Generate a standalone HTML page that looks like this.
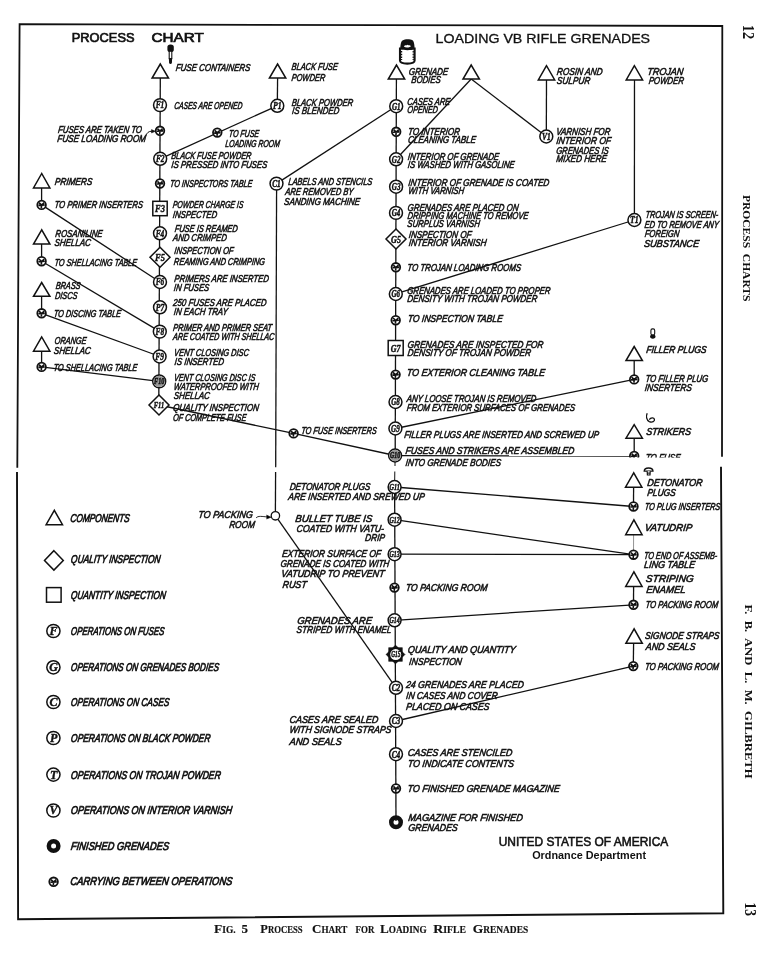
<!DOCTYPE html>
<html><head><meta charset="utf-8"><title>Process Chart for Loading Rifle Grenades</title>
<style>
html,body{margin:0;padding:0;background:#fff;}
body{width:765px;height:959px;overflow:hidden;}
svg{display:block;filter:grayscale(1);}
svg text{font-family:"Liberation Sans",sans-serif;stroke:none;fill:#111;}
svg .h{font-style:italic;font-weight:normal;stroke:#111;stroke-width:0.55px;}
svg .lab{font-family:"Liberation Serif",serif;font-style:italic;font-weight:bold;stroke:#111;stroke-width:0.45px;}
svg .hl{font-style:italic;font-weight:normal;stroke:#111;stroke-width:0.75px;}
svg .leg{font-family:"Liberation Serif",serif;font-style:italic;font-weight:bold;stroke:#111;stroke-width:0.4px;}
svg .ti{font-weight:normal;stroke:#111;stroke-width:0.3px;}
svg .ti2{font-weight:normal;stroke:#111;stroke-width:0.7px;}
svg .st{font-weight:normal;stroke:#111;stroke-width:0.55px;}
svg .st2{font-weight:bold;}
svg .cap{font-family:"Liberation Serif",serif;font-weight:bold;stroke:#111;stroke-width:0.15px;}
svg .side{font-family:"Liberation Serif",serif;font-weight:bold;}
</style></head>
<body>
<svg width="765" height="959" viewBox="0 0 765 959" stroke="#111" fill="none">
<rect x="0" y="0" width="765" height="959" fill="#fff" stroke="none"/>
<g fill="none">
<polyline points="17.3,467.8 19.6,24.2 722.3,26.0 722.0,456.8" fill="none" stroke-width="1.8"/>
<polyline points="17.0,472.0 18.1,919.2 723.3,913.2 721.0,466.8" fill="none" stroke-width="1.9"/>
</g>
<text class="ti2" x="71.8" y="42.2" font-size="12.6" textLength="62.7" lengthAdjust="spacingAndGlyphs">PROCESS</text>
<text class="ti2" x="151.5" y="42.2" font-size="12.6" textLength="52.3" lengthAdjust="spacingAndGlyphs">CHART</text>
<text class="ti" x="435.6" y="42.7" font-size="12.2" textLength="214.5" lengthAdjust="spacingAndGlyphs">LOADING VB RIFLE GRENADES</text>
<rect x="167.4" y="44.4" width="6.4" height="7.6" rx="3" ry="2.6" fill="#111" stroke="none"/>
<rect x="169.2" y="51.2" width="2.6" height="7.4" fill="#fff" stroke-width="1.1"/>
<path d="M168.9,58.2 L172.1,58.2 L171.9,63 C171.5,64.4 169.5,64.4 169.1,63 Z" fill="#111" stroke="none"/>
<path d="M400,48.5 L400,60.5 C400,64.6 414.6,64.6 414.6,60.5 L414.6,48.5 Z" fill="#fff" stroke-width="2.1"/>
<path d="M400.3,49 C400.3,46 400.8,41.5 402.5,40.5 C405,39 410,39 412.5,40.3 C414.3,41.5 414.6,46 414.6,49 C411,50.6 404,50.6 400.3,49 Z" fill="#111" stroke="none"/>
<path d="M403.8,46.5 C405,44.6 406.5,45.8 407.5,44.8 C408.6,45.8 410,44.6 411,46.2 C409,48 405.5,48 403.8,46.5 Z" fill="#fff" stroke="none"/>
<path d="M401.6,51 L401.6,60 M413.2,51 L413.2,60" stroke-width="1.2" stroke-dasharray="1.5 1.2"/>
<g fill="none">
<line x1="160.3" y1="78.0" x2="158.8" y2="405.0" stroke-width="1.3" />
<line x1="41.6" y1="188.0" x2="41.6" y2="205.0" stroke-width="1.3" />
<line x1="41.6" y1="244.0" x2="41.6" y2="261.0" stroke-width="1.3" />
<line x1="41.6" y1="296.3" x2="41.6" y2="313.3" stroke-width="1.3" />
<line x1="41.6" y1="351.2" x2="41.6" y2="367.0" stroke-width="1.3" />
<line x1="41.7" y1="204.9" x2="160.0" y2="282.0" stroke-width="1.3" />
<line x1="41.7" y1="261.2" x2="160.0" y2="331.6" stroke-width="1.3" />
<line x1="41.6" y1="313.3" x2="160.0" y2="356.5" stroke-width="1.3" />
<line x1="41.2" y1="366.9" x2="159.0" y2="381.4" stroke-width="1.3" />
<line x1="277.6" y1="78.0" x2="277.3" y2="105.8" stroke-width="1.3" />
<line x1="277.2" y1="105.8" x2="160.2" y2="158.8" stroke-width="1.3" />
<path d="M145.6,135.8 C147,133 148.5,131.3 151,131.3 L153,131.3" stroke-width="1"/>
<path d="M151.5,129.6 L155.4,131.3 L151.5,133 Z" fill="#111" stroke-width="0.5"/>
<line x1="276.5" y1="183.6" x2="396.0" y2="106.2" stroke-width="1.3" />
<line x1="276.6" y1="183.6" x2="275.7" y2="467.2" stroke-width="1.3" />
<line x1="275.6" y1="472.0" x2="275.4" y2="511.6" stroke-width="1.3" />
<line x1="159.0" y1="405.0" x2="293.6" y2="433.4" stroke-width="1.3" />
<line x1="293.6" y1="433.4" x2="395.0" y2="455.5" stroke-width="1.3" />
<line x1="396.4" y1="79.0" x2="395.2" y2="455.5" stroke-width="1.3" />
<line x1="471.2" y1="79.0" x2="396.0" y2="159.3" stroke-width="1.3" />
<line x1="471.2" y1="79.0" x2="546.3" y2="136.5" stroke-width="1.3" />
<line x1="546.5" y1="80.0" x2="546.3" y2="136.5" stroke-width="1.3" />
<line x1="634.5" y1="80.0" x2="634.4" y2="220.0" stroke-width="1.3" />
<line x1="634.4" y1="220.0" x2="398.0" y2="293.2" stroke-width="1.3" />
<line x1="634.2" y1="360.6" x2="634.2" y2="379.4" stroke-width="1.3" />
<line x1="634.2" y1="379.4" x2="395.5" y2="428.5" stroke-width="1.3" />
<line x1="634.2" y1="438.2" x2="634.2" y2="455.9" stroke-width="1.3" />
<line x1="395.0" y1="455.6" x2="634.2" y2="456.0" stroke-width="1.3" />
<line x1="395.0" y1="460.0" x2="395.0" y2="466.0" stroke-width="1.0" />
<line x1="394.8" y1="471.5" x2="394.6" y2="487.0" stroke-width="1.0" />
<line x1="394.6" y1="487.0" x2="396.0" y2="821.0" stroke-width="1.3" />
<line x1="278.0" y1="519.3" x2="396.0" y2="687.8" stroke-width="1.3" />
<path d="M256,518 C258,515.5 262,516.5 268,517" stroke-width="0.9"/>
<path d="M266.5,515 L271,517.2 L266.5,519" fill="#000" stroke-width="0.6"/>
<line x1="394.6" y1="487.0" x2="633.5" y2="506.5" stroke-width="1.3" />
<line x1="394.6" y1="519.7" x2="633.5" y2="554.7" stroke-width="1.3" />
<line x1="394.6" y1="554.2" x2="633.5" y2="554.7" stroke-width="1.3" />
<line x1="394.6" y1="620.3" x2="633.5" y2="604.8" stroke-width="1.3" />
<line x1="396.0" y1="721.0" x2="633.3" y2="666.1" stroke-width="1.3" />
<line x1="633.6" y1="487.2" x2="633.5" y2="506.5" stroke-width="1.3" />
<line x1="633.6" y1="534.7" x2="633.5" y2="554.7" stroke-width="0.9" stroke="#888"/>
<line x1="633.6" y1="586.5" x2="633.5" y2="604.8" stroke-width="1.3" />
<line x1="633.6" y1="643.3" x2="633.3" y2="666.1" stroke-width="1.3" />
</g>
<polygon points="160.3,64.0 152.1,78.0 168.5,78.0" fill="#fff" stroke-width="1.5" stroke-linejoin="miter"/>
<circle cx="160.0" cy="105.1" r="6.45" fill="#fff" stroke-width="1.5"/>
<text class="lab" x="155.7" y="108.4" font-size="9.6" textLength="8.6" lengthAdjust="spacingAndGlyphs">F1</text>
<circle cx="160.0" cy="130.8" r="4.3" fill="#fff" stroke-width="1.8"/>
<path d="M157.4,128.6 L160.0,131.1 L162.6,128.6 M160.0,131.1 L159.7,134.1 M156.8,131.3 L163.2,130.9" fill="none" stroke-width="1.6"/>
<circle cx="160.2" cy="158.8" r="6.45" fill="#fff" stroke-width="1.5"/>
<text class="lab" x="155.9" y="162.1" font-size="9.6" textLength="8.6" lengthAdjust="spacingAndGlyphs">F2</text>
<circle cx="160.0" cy="183.5" r="4.3" fill="#fff" stroke-width="1.8"/>
<path d="M157.4,181.3 L160.0,183.8 L162.6,181.3 M160.0,183.8 L159.7,186.8 M156.8,184.0 L163.2,183.6" fill="none" stroke-width="1.6"/>
<rect x="152.8" y="201.3" width="14.4" height="14.4" fill="#fff" stroke-width="1.5"/>
<text class="lab" x="155.1" y="212.2" font-size="10.4" textLength="9.8" lengthAdjust="spacingAndGlyphs">F3</text>
<circle cx="160.0" cy="233.3" r="6.45" fill="#fff" stroke-width="1.5"/>
<text class="lab" x="155.7" y="236.6" font-size="9.6" textLength="8.6" lengthAdjust="spacingAndGlyphs">F4</text>
<polygon points="160.0,247.2 170.0,257.2 160.0,267.2 150.0,257.2" fill="#fff" stroke-width="1.5"/>
<text class="lab" x="155.1" y="260.8" font-size="10.0" textLength="9.8" lengthAdjust="spacingAndGlyphs">F5</text>
<circle cx="160.0" cy="282.0" r="6.45" fill="#fff" stroke-width="1.5"/>
<text class="lab" x="155.7" y="285.3" font-size="9.6" textLength="8.6" lengthAdjust="spacingAndGlyphs">F6</text>
<circle cx="160.0" cy="307.3" r="6.45" fill="#fff" stroke-width="1.5"/>
<text class="lab" x="155.7" y="310.6" font-size="9.6" textLength="8.6" lengthAdjust="spacingAndGlyphs">P7</text>
<circle cx="159.8" cy="331.6" r="6.45" fill="#fff" stroke-width="1.5"/>
<text class="lab" x="155.5" y="334.9" font-size="9.6" textLength="8.6" lengthAdjust="spacingAndGlyphs">F8</text>
<circle cx="159.6" cy="356.5" r="6.45" fill="#fff" stroke-width="1.5"/>
<text class="lab" x="155.3" y="359.8" font-size="9.6" textLength="8.6" lengthAdjust="spacingAndGlyphs">F9</text>
<circle cx="159.2" cy="381.4" r="6.45" fill="#fff" stroke-width="1.5"/>
<circle cx="159.2" cy="381.4" r="5.65" fill="#9a9a9a" stroke="none"/>
<text class="lab" x="154.1" y="384.3" font-size="8.4" textLength="10.2" lengthAdjust="spacingAndGlyphs">F10</text>
<polygon points="159.0,395.0 169.0,405.0 159.0,415.0 149.0,405.0" fill="#fff" stroke-width="1.5"/>
<text class="lab" x="153.8" y="408.1" font-size="8.5" textLength="10.4" lengthAdjust="spacingAndGlyphs">F11</text>
<polygon points="41.7,173.5 33.5,188.0 49.9,188.0" fill="#fff" stroke-width="1.5" stroke-linejoin="miter"/>
<circle cx="41.6" cy="204.9" r="4.3" fill="#fff" stroke-width="1.8"/>
<path d="M39.0,202.7 L41.6,205.2 L44.2,202.7 M41.6,205.2 L41.3,208.2 M38.4,205.4 L44.8,205.0" fill="none" stroke-width="1.6"/>
<polygon points="41.7,229.8 33.5,244.1 49.9,244.1" fill="#fff" stroke-width="1.5" stroke-linejoin="miter"/>
<circle cx="41.6" cy="261.2" r="4.3" fill="#fff" stroke-width="1.8"/>
<path d="M39.0,259.0 L41.6,261.5 L44.2,259.0 M41.6,261.5 L41.3,264.5 M38.4,261.7 L44.8,261.3" fill="none" stroke-width="1.6"/>
<polygon points="41.7,282.5 33.5,296.3 49.9,296.3" fill="#fff" stroke-width="1.5" stroke-linejoin="miter"/>
<circle cx="41.6" cy="313.3" r="4.3" fill="#fff" stroke-width="1.8"/>
<path d="M39.0,311.1 L41.6,313.6 L44.2,311.1 M41.6,313.6 L41.3,316.6 M38.4,313.8 L44.8,313.4" fill="none" stroke-width="1.6"/>
<polygon points="41.7,336.9 33.5,351.2 49.9,351.2" fill="#fff" stroke-width="1.5" stroke-linejoin="miter"/>
<circle cx="41.6" cy="366.9" r="4.3" fill="#fff" stroke-width="1.8"/>
<path d="M39.0,364.7 L41.6,367.2 L44.2,364.7 M41.6,367.2 L41.3,370.2 M38.4,367.4 L44.8,367.0" fill="none" stroke-width="1.6"/>
<polygon points="277.6,64.0 269.4,78.0 285.8,78.0" fill="#fff" stroke-width="1.5" stroke-linejoin="miter"/>
<circle cx="277.3" cy="105.8" r="6.45" fill="#fff" stroke-width="1.5"/>
<text class="lab" x="273.0" y="109.1" font-size="9.6" textLength="8.6" lengthAdjust="spacingAndGlyphs">P1</text>
<circle cx="217.3" cy="132.6" r="4.3" fill="#fff" stroke-width="1.8"/>
<path d="M214.7,130.4 L217.3,132.9 L219.9,130.4 M217.3,132.9 L217.0,135.9 M214.1,133.1 L220.5,132.7" fill="none" stroke-width="1.6"/>
<circle cx="276.5" cy="183.6" r="6.45" fill="#fff" stroke-width="1.5"/>
<text class="lab" x="272.2" y="186.9" font-size="9.6" textLength="8.6" lengthAdjust="spacingAndGlyphs">C1</text>
<circle cx="293.6" cy="433.4" r="4.3" fill="#fff" stroke-width="1.8"/>
<path d="M291.0,431.2 L293.6,433.7 L296.2,431.2 M293.6,433.7 L293.3,436.7 M290.4,433.9 L296.8,433.5" fill="none" stroke-width="1.6"/>
<circle cx="275.4" cy="515.8" r="4.2" fill="#fff" stroke-width="1.3"/>
<polygon points="396.5,65.0 388.3,79.0 404.7,79.0" fill="#fff" stroke-width="1.5" stroke-linejoin="miter"/>
<polygon points="471.2,65.0 463.0,79.0 479.4,79.0" fill="#fff" stroke-width="1.5" stroke-linejoin="miter"/>
<polygon points="546.5,65.7 538.3,80.0 554.7,80.0" fill="#fff" stroke-width="1.5" stroke-linejoin="miter"/>
<polygon points="634.4,65.7 626.2,80.0 642.6,80.0" fill="#fff" stroke-width="1.5" stroke-linejoin="miter"/>
<circle cx="396.2" cy="106.2" r="6.45" fill="#fff" stroke-width="1.5"/>
<text class="lab" x="391.9" y="109.5" font-size="9.6" textLength="8.6" lengthAdjust="spacingAndGlyphs">G1</text>
<circle cx="396.2" cy="131.8" r="4.3" fill="#fff" stroke-width="1.8"/>
<path d="M393.6,129.6 L396.2,132.1 L398.8,129.6 M396.2,132.1 L395.9,135.1 M393.0,132.3 L399.4,131.9" fill="none" stroke-width="1.6"/>
<circle cx="396.1" cy="159.3" r="6.45" fill="#fff" stroke-width="1.5"/>
<text class="lab" x="391.8" y="162.6" font-size="9.6" textLength="8.6" lengthAdjust="spacingAndGlyphs">G2</text>
<circle cx="396.1" cy="186.7" r="6.45" fill="#fff" stroke-width="1.5"/>
<text class="lab" x="391.8" y="190.0" font-size="9.6" textLength="8.6" lengthAdjust="spacingAndGlyphs">G3</text>
<circle cx="396.0" cy="212.9" r="6.45" fill="#fff" stroke-width="1.5"/>
<text class="lab" x="391.7" y="216.2" font-size="9.6" textLength="8.6" lengthAdjust="spacingAndGlyphs">G4</text>
<polygon points="396.0,229.0 406.0,239.0 396.0,249.0 386.0,239.0" fill="#fff" stroke-width="1.5"/>
<text class="lab" x="391.1" y="242.6" font-size="10.0" textLength="9.8" lengthAdjust="spacingAndGlyphs">G5</text>
<circle cx="395.9" cy="267.3" r="4.3" fill="#fff" stroke-width="1.8"/>
<path d="M393.3,265.1 L395.9,267.6 L398.5,265.1 M395.9,267.6 L395.6,270.6 M392.7,267.8 L399.1,267.4" fill="none" stroke-width="1.6"/>
<circle cx="395.8" cy="294.0" r="6.45" fill="#fff" stroke-width="1.5"/>
<text class="lab" x="391.5" y="297.3" font-size="9.6" textLength="8.6" lengthAdjust="spacingAndGlyphs">G6</text>
<circle cx="395.7" cy="320.2" r="4.3" fill="#fff" stroke-width="1.8"/>
<path d="M393.1,318.0 L395.7,320.5 L398.3,318.0 M395.7,320.5 L395.4,323.5 M392.5,320.7 L398.9,320.3" fill="none" stroke-width="1.6"/>
<rect x="388.2" y="340.5" width="15" height="15" fill="#fff" stroke-width="1.5"/>
<text class="lab" x="390.8" y="351.7" font-size="10.4" textLength="9.8" lengthAdjust="spacingAndGlyphs">G7</text>
<circle cx="395.6" cy="374.6" r="4.3" fill="#fff" stroke-width="1.8"/>
<path d="M393.0,372.4 L395.6,374.9 L398.2,372.4 M395.6,374.9 L395.3,377.9 M392.4,375.1 L398.8,374.7" fill="none" stroke-width="1.6"/>
<circle cx="395.5" cy="402.0" r="6.45" fill="#fff" stroke-width="1.5"/>
<text class="lab" x="391.2" y="405.3" font-size="9.6" textLength="8.6" lengthAdjust="spacingAndGlyphs">G8</text>
<circle cx="395.4" cy="428.5" r="6.45" fill="#fff" stroke-width="1.5"/>
<text class="lab" x="391.1" y="431.8" font-size="9.6" textLength="8.6" lengthAdjust="spacingAndGlyphs">G9</text>
<circle cx="395.1" cy="455.5" r="6.45" fill="#fff" stroke-width="1.5"/>
<circle cx="395.1" cy="455.5" r="5.65" fill="#9a9a9a" stroke="none"/>
<text class="lab" x="390.0" y="458.4" font-size="8.4" textLength="10.2" lengthAdjust="spacingAndGlyphs">G10</text>
<circle cx="546.3" cy="136.5" r="6.45" fill="#fff" stroke-width="1.5"/>
<text class="lab" x="542.0" y="139.8" font-size="9.6" textLength="8.6" lengthAdjust="spacingAndGlyphs">V1</text>
<circle cx="634.4" cy="220.0" r="6.45" fill="#fff" stroke-width="1.5"/>
<text class="lab" x="630.1" y="223.3" font-size="9.6" textLength="8.6" lengthAdjust="spacingAndGlyphs">T1</text>
<polygon points="634.2,346.5 626.0,360.6 642.4,360.6" fill="#fff" stroke-width="1.5" stroke-linejoin="miter"/>
<circle cx="634.2" cy="379.4" r="4.3" fill="#fff" stroke-width="1.8"/>
<path d="M631.6,377.2 L634.2,379.7 L636.8,377.2 M634.2,379.7 L633.9,382.7 M631.0,379.9 L637.4,379.5" fill="none" stroke-width="1.6"/>
<polygon points="634.2,424.6 626.0,438.2 642.4,438.2" fill="#fff" stroke-width="1.5" stroke-linejoin="miter"/>
<clipPath id="cl1"><rect x="600" y="440" width="100" height="17.5"/></clipPath>
<g clip-path="url(#cl1)">
<circle cx="634.2" cy="455.9" r="4.3" fill="#fff" stroke-width="1.8"/>
<path d="M631.6,453.7 L634.2,456.2 L636.8,453.7 M634.2,456.2 L633.9,459.2 M631.0,456.4 L637.4,456.0" fill="none" stroke-width="1.6"/>
<text class="h" transform="translate(645.2,461.2) skewX(-7)" x="0" y="0" font-size="10.0" textLength="34.9" lengthAdjust="spacingAndGlyphs">TO FUSE</text>
</g>
<rect x="650.9" y="328.9" width="3.8" height="6.2" rx="1.6" ry="1.6" fill="#fff" stroke-width="1.1"/>
<ellipse cx="652.8" cy="336.6" rx="2.7" ry="2.1" fill="#111" stroke="none"/>
<path d="M647.2,413.3 C645.9,416 646.3,420.3 649.3,421.6 C652.3,422.8 655,421.3 654.4,419.2 C653.8,417.4 650.8,417.6 649.2,419.6" fill="none" stroke-width="1.3"/>
<path d="M644.2,471.2 C644.2,466.9 653,466.9 653,471.2 Z" fill="#fff" stroke-width="1.3"/>
<path d="M647.2,471.2 L647.4,475 L650,475 L650.2,471.2" fill="#fff" stroke-width="1.2"/>
<path d="M647.3,473.1 L650.1,473.1" stroke-width="1"/>
<circle cx="394.6" cy="487.0" r="6.45" fill="#fff" stroke-width="1.5"/>
<text class="lab" x="389.5" y="489.9" font-size="8.4" textLength="10.2" lengthAdjust="spacingAndGlyphs">G11</text>
<circle cx="394.6" cy="519.7" r="6.45" fill="#fff" stroke-width="1.5"/>
<text class="lab" x="389.5" y="522.6" font-size="8.4" textLength="10.2" lengthAdjust="spacingAndGlyphs">G12</text>
<circle cx="394.6" cy="554.2" r="6.45" fill="#fff" stroke-width="1.5"/>
<text class="lab" x="389.5" y="557.1" font-size="8.4" textLength="10.2" lengthAdjust="spacingAndGlyphs">G13</text>
<circle cx="394.5" cy="587.6" r="4.3" fill="#fff" stroke-width="1.8"/>
<path d="M391.9,585.4 L394.5,587.9 L397.1,585.4 M394.5,587.9 L394.2,590.9 M391.3,588.1 L397.7,587.7" fill="none" stroke-width="1.6"/>
<circle cx="394.6" cy="620.3" r="6.45" fill="#fff" stroke-width="1.5"/>
<text class="lab" x="389.5" y="623.2" font-size="8.4" textLength="10.2" lengthAdjust="spacingAndGlyphs">G14</text>
<rect x="388.9" y="647.9" width="13.2" height="13.2" fill="#111" stroke-width="1"/>
<polygon points="395.5,645.2 404.8,654.5 395.5,663.8 386.2,654.5" fill="#111" stroke-width="1"/>
<circle cx="395.7" cy="654.6" r="5.5" fill="#fff" stroke="none"/>
<text class="lab" x="391.2" y="657.3" font-size="8" textLength="9.2" lengthAdjust="spacingAndGlyphs">G15</text>
<circle cx="396.0" cy="687.8" r="6.45" fill="#fff" stroke-width="1.5"/>
<text class="lab" x="391.7" y="691.1" font-size="9.6" textLength="8.6" lengthAdjust="spacingAndGlyphs">C2</text>
<circle cx="396.0" cy="721.0" r="6.45" fill="#fff" stroke-width="1.5"/>
<text class="lab" x="391.7" y="724.3" font-size="9.6" textLength="8.6" lengthAdjust="spacingAndGlyphs">C3</text>
<circle cx="396.0" cy="754.2" r="6.45" fill="#fff" stroke-width="1.5"/>
<text class="lab" x="391.7" y="757.5" font-size="9.6" textLength="8.6" lengthAdjust="spacingAndGlyphs">C4</text>
<circle cx="396.0" cy="788.5" r="4.3" fill="#fff" stroke-width="1.8"/>
<path d="M393.4,786.3 L396.0,788.8 L398.6,786.3 M396.0,788.8 L395.7,791.8 M392.8,789.0 L399.2,788.6" fill="none" stroke-width="1.6"/>
<circle cx="396.0" cy="822.2" r="4.75" fill="none" stroke-width="4.50"/>
<polygon points="633.7,472.8 625.5,487.2 641.9,487.2" fill="#fff" stroke-width="1.5" stroke-linejoin="miter"/>
<circle cx="633.5" cy="506.5" r="4.3" fill="#fff" stroke-width="1.8"/>
<path d="M630.9,504.3 L633.5,506.8 L636.1,504.3 M633.5,506.8 L633.2,509.8 M630.3,507.0 L636.7,506.6" fill="none" stroke-width="1.6"/>
<polygon points="633.9,519.9 625.7,534.7 642.1,534.7" fill="#fff" stroke-width="1.5" stroke-linejoin="miter"/>
<circle cx="633.5" cy="554.7" r="4.3" fill="#fff" stroke-width="1.8"/>
<path d="M630.9,552.5 L633.5,555.0 L636.1,552.5 M633.5,555.0 L633.2,558.0 M630.3,555.2 L636.7,554.8" fill="none" stroke-width="1.6"/>
<polygon points="633.9,571.9 625.7,586.5 642.1,586.5" fill="#fff" stroke-width="1.5" stroke-linejoin="miter"/>
<circle cx="633.5" cy="604.8" r="4.3" fill="#fff" stroke-width="1.8"/>
<path d="M630.9,602.6 L633.5,605.1 L636.1,602.6 M633.5,605.1 L633.2,608.1 M630.3,605.3 L636.7,604.9" fill="none" stroke-width="1.6"/>
<polygon points="634.1,628.8 625.9,643.3 642.3,643.3" fill="#fff" stroke-width="1.5" stroke-linejoin="miter"/>
<circle cx="633.3" cy="666.1" r="4.3" fill="#fff" stroke-width="1.8"/>
<path d="M630.7,663.9 L633.3,666.4 L635.9,663.9 M633.3,666.4 L633.0,669.4 M630.1,666.6 L636.5,666.2" fill="none" stroke-width="1.6"/>
<polygon points="54.3,510.3 46.1,524.7 62.5,524.7" fill="#fff" stroke-width="1.5" stroke-linejoin="miter"/>
<polygon points="53.9,550.7 63.3,560.4 53.9,570.1 44.5,560.4" fill="#fff" stroke-width="1.5"/>
<rect x="46.5" y="587.6" width="14.6" height="14.6" fill="#fff" stroke-width="1.5"/>
<circle cx="53.4" cy="631" r="6.6" fill="#fff" stroke-width="1.5"/>
<text class="leg" x="53.6" y="634.9" font-size="12" text-anchor="middle">F</text>
<circle cx="53.4" cy="667.3" r="6.6" fill="#fff" stroke-width="1.5"/>
<text class="leg" x="53.6" y="671.2" font-size="12" text-anchor="middle">G</text>
<circle cx="53.4" cy="702" r="6.6" fill="#fff" stroke-width="1.5"/>
<text class="leg" x="53.6" y="705.9" font-size="12" text-anchor="middle">C</text>
<circle cx="53.4" cy="738" r="6.6" fill="#fff" stroke-width="1.5"/>
<text class="leg" x="53.6" y="741.9" font-size="12" text-anchor="middle">P</text>
<circle cx="53.4" cy="774.6" r="6.6" fill="#fff" stroke-width="1.5"/>
<text class="leg" x="53.6" y="778.5" font-size="12" text-anchor="middle">T</text>
<circle cx="53.4" cy="810.5" r="6.6" fill="#fff" stroke-width="1.5"/>
<text class="leg" x="53.6" y="814.4" font-size="12" text-anchor="middle">V</text>
<circle cx="53.6" cy="846.0" r="4.75" fill="none" stroke-width="4.50"/>
<circle cx="53.6" cy="881.8" r="4.3" fill="#fff" stroke-width="1.8"/>
<path d="M51.0,879.6 L53.6,882.1 L56.2,879.6 M53.6,882.1 L53.3,885.1 M50.4,882.3 L56.8,881.9" fill="none" stroke-width="1.6"/>
<text class="h" transform="translate(175.5,70.5) skewX(-7)" x="0" y="0" font-size="10.0" textLength="74.5" lengthAdjust="spacingAndGlyphs">FUSE CONTAINERS</text>
<text class="h" transform="translate(173.9,109.2) skewX(-7)" x="0" y="0" font-size="10.0" textLength="68.1" lengthAdjust="spacingAndGlyphs">CASES ARE OPENED</text>
<text class="h" transform="translate(57.8,132.6) skewX(-7)" x="0" y="0" font-size="10.0" textLength="83.8" lengthAdjust="spacingAndGlyphs">FUSES ARE TAKEN TO</text>
<text class="h" transform="translate(56.9,141.8) skewX(-7)" x="0" y="0" font-size="10.0" textLength="88.8" lengthAdjust="spacingAndGlyphs">FUSE LOADING ROOM</text>
<text class="h" transform="translate(171.0,158.9) skewX(-7)" x="0" y="0" font-size="10.0" textLength="80.0" lengthAdjust="spacingAndGlyphs">BLACK FUSE POWDER</text>
<text class="h" transform="translate(171.0,168.4) skewX(-7)" x="0" y="0" font-size="10.0" textLength="96.0" lengthAdjust="spacingAndGlyphs">IS PRESSED INTO FUSES</text>
<text class="h" transform="translate(169.7,187.4) skewX(-7)" x="0" y="0" font-size="10.0" textLength="82.3" lengthAdjust="spacingAndGlyphs">TO INSPECTORS TABLE</text>
<text class="h" transform="translate(172.5,208.2) skewX(-7)" x="0" y="0" font-size="10.0" textLength="70.6" lengthAdjust="spacingAndGlyphs">POWDER CHARGE IS</text>
<text class="h" transform="translate(172.5,217.6) skewX(-7)" x="0" y="0" font-size="10.0" textLength="44.3" lengthAdjust="spacingAndGlyphs">INSPECTED</text>
<text class="h" transform="translate(174.4,232.4) skewX(-7)" x="0" y="0" font-size="10.0" textLength="63.1" lengthAdjust="spacingAndGlyphs">FUSE IS REAMED</text>
<text class="h" transform="translate(172.8,240.9) skewX(-7)" x="0" y="0" font-size="10.0" textLength="53.7" lengthAdjust="spacingAndGlyphs">AND CRIMPED</text>
<text class="h" transform="translate(174.1,254.4) skewX(-7)" x="0" y="0" font-size="10.0" textLength="59.1" lengthAdjust="spacingAndGlyphs">INSPECTION OF</text>
<text class="h" transform="translate(173.6,264.6) skewX(-7)" x="0" y="0" font-size="10.0" textLength="91.0" lengthAdjust="spacingAndGlyphs">REAMING AND CRIMPING</text>
<text class="h" transform="translate(174.1,281.8) skewX(-7)" x="0" y="0" font-size="10.0" textLength="94.4" lengthAdjust="spacingAndGlyphs">PRIMERS ARE INSERTED</text>
<text class="h" transform="translate(173.6,290.8) skewX(-7)" x="0" y="0" font-size="10.0" textLength="35.3" lengthAdjust="spacingAndGlyphs">IN FUSES</text>
<text class="h" transform="translate(172.8,305.8) skewX(-7)" x="0" y="0" font-size="10.0" textLength="93.4" lengthAdjust="spacingAndGlyphs">250 FUSES ARE PLACED</text>
<text class="h" transform="translate(173.6,314.6) skewX(-7)" x="0" y="0" font-size="10.0" textLength="53.8" lengthAdjust="spacingAndGlyphs">IN EACH TRAY</text>
<text class="h" transform="translate(172.8,330.9) skewX(-7)" x="0" y="0" font-size="10.0" textLength="98.9" lengthAdjust="spacingAndGlyphs">PRIMER AND PRIMER SEAT</text>
<text class="h" transform="translate(172.8,339.8) skewX(-7)" x="0" y="0" font-size="10.0" textLength="101.2" lengthAdjust="spacingAndGlyphs">ARE COATED WITH SHELLAC</text>
<text class="h" transform="translate(173.8,355.8) skewX(-7)" x="0" y="0" font-size="10.0" textLength="74.7" lengthAdjust="spacingAndGlyphs">VENT CLOSING DISC</text>
<text class="h" transform="translate(174.3,364.8) skewX(-7)" x="0" y="0" font-size="10.0" textLength="49.4" lengthAdjust="spacingAndGlyphs">IS INSERTED</text>
<text class="h" transform="translate(173.8,380.8) skewX(-7)" x="0" y="0" font-size="10.0" textLength="81.3" lengthAdjust="spacingAndGlyphs">VENT CLOSING DISC IS</text>
<text class="h" transform="translate(173.5,390.1) skewX(-7)" x="0" y="0" font-size="10.0" textLength="85.0" lengthAdjust="spacingAndGlyphs">WATERPROOFED WITH</text>
<text class="h" transform="translate(173.5,399.1) skewX(-7)" x="0" y="0" font-size="10.0" textLength="36.1" lengthAdjust="spacingAndGlyphs">SHELLAC</text>
<text class="h" transform="translate(172.7,411.2) skewX(-7)" x="0" y="0" font-size="10.0" textLength="85.8" lengthAdjust="spacingAndGlyphs">QUALITY INSPECTION</text>
<text class="h" transform="translate(172.7,420.9) skewX(-7)" x="0" y="0" font-size="10.0" textLength="73.3" lengthAdjust="spacingAndGlyphs">OF COMPLETE FUSE</text>
<text class="h" transform="translate(54.4,185.2) skewX(-7)" x="0" y="0" font-size="10.0" textLength="37.7" lengthAdjust="spacingAndGlyphs">PRIMERS</text>
<text class="h" transform="translate(54.3,208.1) skewX(-7)" x="0" y="0" font-size="10.0" textLength="88.3" lengthAdjust="spacingAndGlyphs">TO PRIMER INSERTERS</text>
<text class="h" transform="translate(55.1,236.8) skewX(-7)" x="0" y="0" font-size="10.0" textLength="47.1" lengthAdjust="spacingAndGlyphs">ROSANILINE</text>
<text class="h" transform="translate(54.3,246.2) skewX(-7)" x="0" y="0" font-size="10.0" textLength="36.1" lengthAdjust="spacingAndGlyphs">SHELLAC</text>
<text class="h" transform="translate(54.3,265.8) skewX(-7)" x="0" y="0" font-size="10.0" textLength="82.4" lengthAdjust="spacingAndGlyphs">TO SHELLACING TABLE</text>
<text class="h" transform="translate(55.4,289.2) skewX(-7)" x="0" y="0" font-size="10.0" textLength="24.8" lengthAdjust="spacingAndGlyphs">BRASS</text>
<text class="h" transform="translate(54.8,298.9) skewX(-7)" x="0" y="0" font-size="10.0" textLength="22.2" lengthAdjust="spacingAndGlyphs">DISCS</text>
<text class="h" transform="translate(53.5,317.4) skewX(-7)" x="0" y="0" font-size="10.0" textLength="67.2" lengthAdjust="spacingAndGlyphs">TO DISCING TABLE</text>
<text class="h" transform="translate(54.3,343.8) skewX(-7)" x="0" y="0" font-size="10.0" textLength="31.9" lengthAdjust="spacingAndGlyphs">ORANGE</text>
<text class="h" transform="translate(53.5,353.8) skewX(-7)" x="0" y="0" font-size="10.0" textLength="36.9" lengthAdjust="spacingAndGlyphs">SHELLAC</text>
<text class="h" transform="translate(53.2,370.6) skewX(-7)" x="0" y="0" font-size="10.0" textLength="83.8" lengthAdjust="spacingAndGlyphs">TO SHELLACING TABLE</text>
<text class="h" transform="translate(291.3,70.2) skewX(-7)" x="0" y="0" font-size="10.0" textLength="46.2" lengthAdjust="spacingAndGlyphs">BLACK FUSE</text>
<text class="h" transform="translate(291.3,80.7) skewX(-7)" x="0" y="0" font-size="10.0" textLength="33.7" lengthAdjust="spacingAndGlyphs">POWDER</text>
<text class="h" transform="translate(291.4,105.7) skewX(-7)" x="0" y="0" font-size="10.0" textLength="61.3" lengthAdjust="spacingAndGlyphs">BLACK POWDER</text>
<text class="h" transform="translate(291.8,114.2) skewX(-7)" x="0" y="0" font-size="10.0" textLength="47.1" lengthAdjust="spacingAndGlyphs">IS BLENDED</text>
<text class="h" transform="translate(228.5,137.2) skewX(-7)" x="0" y="0" font-size="10.0" textLength="30.3" lengthAdjust="spacingAndGlyphs">TO FUSE</text>
<text class="h" transform="translate(225.0,146.8) skewX(-7)" x="0" y="0" font-size="10.0" textLength="54.5" lengthAdjust="spacingAndGlyphs">LOADING ROOM</text>
<text class="h" transform="translate(288.0,184.5) skewX(-7)" x="0" y="0" font-size="10.0" textLength="84.0" lengthAdjust="spacingAndGlyphs">LABELS AND STENCILS</text>
<text class="h" transform="translate(284.9,194.8) skewX(-7)" x="0" y="0" font-size="10.0" textLength="68.2" lengthAdjust="spacingAndGlyphs">ARE REMOVED BY</text>
<text class="h" transform="translate(283.8,204.8) skewX(-7)" x="0" y="0" font-size="10.0" textLength="75.9" lengthAdjust="spacingAndGlyphs">SANDING MACHINE</text>
<text class="h" transform="translate(301.0,434.1) skewX(-7)" x="0" y="0" font-size="10.0" textLength="75.4" lengthAdjust="spacingAndGlyphs">TO FUSE INSERTERS</text>
<text class="h" transform="translate(408.5,74.7) skewX(-7)" x="0" y="0" font-size="10.0" textLength="39.2" lengthAdjust="spacingAndGlyphs">GRENADE</text>
<text class="h" transform="translate(411.0,83.2) skewX(-7)" x="0" y="0" font-size="10.0" textLength="29.4" lengthAdjust="spacingAndGlyphs">BODIES</text>
<text class="h" transform="translate(407.0,105.2) skewX(-7)" x="0" y="0" font-size="10.0" textLength="42.9" lengthAdjust="spacingAndGlyphs">CASES ARE</text>
<text class="h" transform="translate(407.0,113.4) skewX(-7)" x="0" y="0" font-size="10.0" textLength="30.6" lengthAdjust="spacingAndGlyphs">OPENED</text>
<text class="h" transform="translate(407.8,134.6) skewX(-7)" x="0" y="0" font-size="10.0" textLength="51.8" lengthAdjust="spacingAndGlyphs">TO INTERIOR</text>
<text class="h" transform="translate(407.8,143.0) skewX(-7)" x="0" y="0" font-size="10.0" textLength="67.8" lengthAdjust="spacingAndGlyphs">CLEANING TABLE</text>
<text class="h" transform="translate(407.5,159.6) skewX(-7)" x="0" y="0" font-size="10.0" textLength="91.3" lengthAdjust="spacingAndGlyphs">INTERIOR OF GRENADE</text>
<text class="h" transform="translate(407.5,168.3) skewX(-7)" x="0" y="0" font-size="10.0" textLength="106.7" lengthAdjust="spacingAndGlyphs">IS WASHED WITH GASOLINE</text>
<text class="h" transform="translate(408.0,186.2) skewX(-7)" x="0" y="0" font-size="10.0" textLength="141.0" lengthAdjust="spacingAndGlyphs">INTERIOR OF GRENADE IS COATED</text>
<text class="h" transform="translate(408.0,194.4) skewX(-7)" x="0" y="0" font-size="10.0" textLength="55.8" lengthAdjust="spacingAndGlyphs">WITH VARNISH</text>
<text class="h" transform="translate(407.3,211.1) skewX(-7)" x="0" y="0" font-size="10.0" textLength="110.9" lengthAdjust="spacingAndGlyphs">GRENADES ARE PLACED ON</text>
<text class="h" transform="translate(407.3,219.4) skewX(-7)" x="0" y="0" font-size="10.0" textLength="120.7" lengthAdjust="spacingAndGlyphs">DRIPPING MACHINE TO REMOVE</text>
<text class="h" transform="translate(407.0,227.3) skewX(-7)" x="0" y="0" font-size="10.0" textLength="72.5" lengthAdjust="spacingAndGlyphs">SURPLUS VARNISH</text>
<text class="h" transform="translate(408.4,237.6) skewX(-7)" x="0" y="0" font-size="10.0" textLength="62.7" lengthAdjust="spacingAndGlyphs">INSPECTION OF</text>
<text class="h" transform="translate(408.4,246.0) skewX(-7)" x="0" y="0" font-size="10.0" textLength="77.8" lengthAdjust="spacingAndGlyphs">INTERIOR VARNISH</text>
<text class="h" transform="translate(407.0,270.8) skewX(-7)" x="0" y="0" font-size="10.0" textLength="113.7" lengthAdjust="spacingAndGlyphs">TO TROJAN LOADING ROOMS</text>
<text class="h" transform="translate(407.0,293.6) skewX(-7)" x="0" y="0" font-size="10.0" textLength="143.1" lengthAdjust="spacingAndGlyphs">GRENADES ARE LOADED TO PROPER</text>
<text class="h" transform="translate(407.0,302.2) skewX(-7)" x="0" y="0" font-size="10.0" textLength="130.0" lengthAdjust="spacingAndGlyphs">DENSITY WITH TROJAN POWDER</text>
<text class="h" transform="translate(407.5,322.4) skewX(-7)" x="0" y="0" font-size="10.0" textLength="94.9" lengthAdjust="spacingAndGlyphs">TO INSPECTION TABLE</text>
<text class="h" transform="translate(407.3,347.9) skewX(-7)" x="0" y="0" font-size="10.0" textLength="135.7" lengthAdjust="spacingAndGlyphs">GRENADES ARE INSPECTED FOR</text>
<text class="h" transform="translate(407.3,356.4) skewX(-7)" x="0" y="0" font-size="10.0" textLength="123.3" lengthAdjust="spacingAndGlyphs">DENSITY OF TROJAN POWDER</text>
<text class="h" transform="translate(406.5,376.2) skewX(-7)" x="0" y="0" font-size="10.0" textLength="138.1" lengthAdjust="spacingAndGlyphs">TO EXTERIOR CLEANING TABLE</text>
<text class="h" transform="translate(406.5,402.1) skewX(-7)" x="0" y="0" font-size="10.0" textLength="129.5" lengthAdjust="spacingAndGlyphs">ANY LOOSE TROJAN IS REMOVED</text>
<text class="h" transform="translate(406.5,410.9) skewX(-7)" x="0" y="0" font-size="10.0" textLength="168.1" lengthAdjust="spacingAndGlyphs">FROM EXTERIOR SURFACES OF GRENADES</text>
<text class="h" transform="translate(403.9,437.8) skewX(-7)" x="0" y="0" font-size="10.0" textLength="194.8" lengthAdjust="spacingAndGlyphs">FILLER PLUGS ARE INSERTED AND SCREWED UP</text>
<text class="h" transform="translate(405.2,454.3) skewX(-7)" x="0" y="0" font-size="10.0" textLength="168.7" lengthAdjust="spacingAndGlyphs">FUSES AND STRIKERS ARE ASSEMBLED</text>
<text class="h" transform="translate(405.2,465.6) skewX(-7)" x="0" y="0" font-size="10.0" textLength="95.5" lengthAdjust="spacingAndGlyphs">INTO GRENADE BODIES</text>
<text class="h" transform="translate(556.6,74.9) skewX(-7)" x="0" y="0" font-size="10.0" textLength="45.6" lengthAdjust="spacingAndGlyphs">ROSIN AND</text>
<text class="h" transform="translate(556.6,83.7) skewX(-7)" x="0" y="0" font-size="10.0" textLength="33.4" lengthAdjust="spacingAndGlyphs">SULPUR</text>
<text class="h" transform="translate(647.0,74.9) skewX(-7)" x="0" y="0" font-size="10.0" textLength="36.0" lengthAdjust="spacingAndGlyphs">TROJAN</text>
<text class="h" transform="translate(648.4,83.7) skewX(-7)" x="0" y="0" font-size="10.0" textLength="35.2" lengthAdjust="spacingAndGlyphs">POWDER</text>
<text class="h" transform="translate(555.9,134.9) skewX(-7)" x="0" y="0" font-size="10.0" textLength="54.1" lengthAdjust="spacingAndGlyphs">VARNISH FOR</text>
<text class="h" transform="translate(555.9,144.3) skewX(-7)" x="0" y="0" font-size="10.0" textLength="54.8" lengthAdjust="spacingAndGlyphs">INTERIOR OF</text>
<text class="h" transform="translate(555.9,153.8) skewX(-7)" x="0" y="0" font-size="10.0" textLength="52.5" lengthAdjust="spacingAndGlyphs">GRENADES IS</text>
<text class="h" transform="translate(555.9,162.3) skewX(-7)" x="0" y="0" font-size="10.0" textLength="50.6" lengthAdjust="spacingAndGlyphs">MIXED HERE</text>
<text class="h" transform="translate(645.2,218.4) skewX(-7)" x="0" y="0" font-size="10.0" textLength="72.6" lengthAdjust="spacingAndGlyphs">TROJAN IS SCREEN-</text>
<text class="h" transform="translate(644.2,227.6) skewX(-7)" x="0" y="0" font-size="10.0" textLength="74.3" lengthAdjust="spacingAndGlyphs">ED TO REMOVE ANY</text>
<text class="h" transform="translate(644.4,237.1) skewX(-7)" x="0" y="0" font-size="10.0" textLength="34.6" lengthAdjust="spacingAndGlyphs">FOREIGN</text>
<text class="h" transform="translate(643.7,246.5) skewX(-7)" x="0" y="0" font-size="10.0" textLength="55.1" lengthAdjust="spacingAndGlyphs">SUBSTANCE</text>
<text class="h" transform="translate(645.9,353.1) skewX(-7)" x="0" y="0" font-size="10.0" textLength="60.4" lengthAdjust="spacingAndGlyphs">FILLER PLUGS</text>
<text class="h" transform="translate(645.2,381.9) skewX(-7)" x="0" y="0" font-size="10.0" textLength="62.5" lengthAdjust="spacingAndGlyphs">TO FILLER PLUG</text>
<text class="h" transform="translate(644.4,390.6) skewX(-7)" x="0" y="0" font-size="10.0" textLength="47.2" lengthAdjust="spacingAndGlyphs">INSERTERS</text>
<text class="h" transform="translate(645.9,434.8) skewX(-7)" x="0" y="0" font-size="10.0" textLength="44.8" lengthAdjust="spacingAndGlyphs">STRIKERS</text>
<text class="h" transform="translate(198.0,518.1) skewX(-7)" x="0" y="0" font-size="10.0" textLength="54.4" lengthAdjust="spacingAndGlyphs">TO PACKING</text>
<text class="h" transform="translate(228.9,528.2) skewX(-7)" x="0" y="0" font-size="10.0" textLength="25.6" lengthAdjust="spacingAndGlyphs">ROOM</text>
<text class="h" transform="translate(289.4,490.1) skewX(-7)" x="0" y="0" font-size="10.0" textLength="80.6" lengthAdjust="spacingAndGlyphs">DETONATOR PLUGS</text>
<text class="h" transform="translate(288.0,500.1) skewX(-7)" x="0" y="0" font-size="10.0" textLength="136.4" lengthAdjust="spacingAndGlyphs">ARE INSERTED AND SREWED UP</text>
<text class="h" transform="translate(295.0,522.2) skewX(-7)" x="0" y="0" font-size="10.0" textLength="77.0" lengthAdjust="spacingAndGlyphs">BULLET TUBE IS</text>
<text class="h" transform="translate(296.3,531.7) skewX(-7)" x="0" y="0" font-size="10.0" textLength="87.3" lengthAdjust="spacingAndGlyphs">COATED WITH VATU-</text>
<text class="h" transform="translate(364.7,540.8) skewX(-7)" x="0" y="0" font-size="10.0" textLength="19.9" lengthAdjust="spacingAndGlyphs">DRIP</text>
<text class="h" transform="translate(281.7,556.8) skewX(-7)" x="0" y="0" font-size="10.0" textLength="98.9" lengthAdjust="spacingAndGlyphs">EXTERIOR SURFACE OF</text>
<text class="h" transform="translate(280.2,566.8) skewX(-7)" x="0" y="0" font-size="10.0" textLength="108.8" lengthAdjust="spacingAndGlyphs">GRENADE IS COATED WITH</text>
<text class="h" transform="translate(280.9,577.0) skewX(-7)" x="0" y="0" font-size="10.0" textLength="103.3" lengthAdjust="spacingAndGlyphs">VATUDRIP TO PREVENT</text>
<text class="h" transform="translate(282.3,587.5) skewX(-7)" x="0" y="0" font-size="10.0" textLength="24.1" lengthAdjust="spacingAndGlyphs">RUST</text>
<text class="h" transform="translate(405.4,590.8) skewX(-7)" x="0" y="0" font-size="10.0" textLength="81.8" lengthAdjust="spacingAndGlyphs">TO PACKING ROOM</text>
<text class="h" transform="translate(297.0,623.8) skewX(-7)" x="0" y="0" font-size="10.0" textLength="74.7" lengthAdjust="spacingAndGlyphs">GRENADES ARE</text>
<text class="h" transform="translate(296.3,633.0) skewX(-7)" x="0" y="0" font-size="10.0" textLength="94.8" lengthAdjust="spacingAndGlyphs">STRIPED WITH ENAMEL</text>
<text class="h" transform="translate(407.5,652.8) skewX(-7)" x="0" y="0" font-size="10.0" textLength="107.9" lengthAdjust="spacingAndGlyphs">QUALITY AND QUANTITY</text>
<text class="h" transform="translate(408.8,664.9) skewX(-7)" x="0" y="0" font-size="10.0" textLength="52.8" lengthAdjust="spacingAndGlyphs">INSPECTION</text>
<text class="h" transform="translate(405.8,688.2) skewX(-7)" x="0" y="0" font-size="10.0" textLength="117.7" lengthAdjust="spacingAndGlyphs">24 GRENADES ARE PLACED</text>
<text class="h" transform="translate(405.8,699.2) skewX(-7)" x="0" y="0" font-size="10.0" textLength="91.5" lengthAdjust="spacingAndGlyphs">IN CASES AND COVER</text>
<text class="h" transform="translate(405.8,710.0) skewX(-7)" x="0" y="0" font-size="10.0" textLength="83.4" lengthAdjust="spacingAndGlyphs">PLACED ON CASES</text>
<text class="h" transform="translate(289.2,722.6) skewX(-7)" x="0" y="0" font-size="10.0" textLength="88.8" lengthAdjust="spacingAndGlyphs">CASES ARE SEALED</text>
<text class="h" transform="translate(289.2,733.2) skewX(-7)" x="0" y="0" font-size="10.0" textLength="101.9" lengthAdjust="spacingAndGlyphs">WITH SIGNODE STRAPS</text>
<text class="h" transform="translate(289.2,744.7) skewX(-7)" x="0" y="0" font-size="10.0" textLength="52.2" lengthAdjust="spacingAndGlyphs">AND SEALS</text>
<text class="h" transform="translate(407.5,756.1) skewX(-7)" x="0" y="0" font-size="10.0" textLength="104.5" lengthAdjust="spacingAndGlyphs">CASES ARE STENCILED</text>
<text class="h" transform="translate(407.5,766.7) skewX(-7)" x="0" y="0" font-size="10.0" textLength="106.2" lengthAdjust="spacingAndGlyphs">TO INDICATE CONTENTS</text>
<text class="h" transform="translate(407.3,791.8) skewX(-7)" x="0" y="0" font-size="10.0" textLength="152.1" lengthAdjust="spacingAndGlyphs">TO FINISHED GRENADE MAGAZINE</text>
<text class="h" transform="translate(408.0,821.0) skewX(-7)" x="0" y="0" font-size="10.0" textLength="114.5" lengthAdjust="spacingAndGlyphs">MAGAZINE FOR FINISHED</text>
<text class="h" transform="translate(408.0,831.2) skewX(-7)" x="0" y="0" font-size="10.0" textLength="49.5" lengthAdjust="spacingAndGlyphs">GRENADES</text>
<text class="h" transform="translate(647.0,486.3) skewX(-7)" x="0" y="0" font-size="10.0" textLength="55.2" lengthAdjust="spacingAndGlyphs">DETONATOR</text>
<text class="h" transform="translate(647.0,496.3) skewX(-7)" x="0" y="0" font-size="10.0" textLength="28.4" lengthAdjust="spacingAndGlyphs">PLUGS</text>
<text class="h" transform="translate(644.4,510.1) skewX(-7)" x="0" y="0" font-size="10.0" textLength="75.5" lengthAdjust="spacingAndGlyphs">TO PLUG INSERTERS</text>
<text class="h" transform="translate(644.4,531.2) skewX(-7)" x="0" y="0" font-size="10.0" textLength="47.5" lengthAdjust="spacingAndGlyphs">VATUDRIP</text>
<text class="h" transform="translate(643.7,558.6) skewX(-7)" x="0" y="0" font-size="10.0" textLength="73.3" lengthAdjust="spacingAndGlyphs">TO END OF ASSEMB-</text>
<text class="h" transform="translate(643.7,567.9) skewX(-7)" x="0" y="0" font-size="10.0" textLength="51.1" lengthAdjust="spacingAndGlyphs">LING TABLE</text>
<text class="h" transform="translate(645.6,581.6) skewX(-7)" x="0" y="0" font-size="10.0" textLength="47.7" lengthAdjust="spacingAndGlyphs">STRIPING</text>
<text class="h" transform="translate(645.9,592.8) skewX(-7)" x="0" y="0" font-size="10.0" textLength="39.5" lengthAdjust="spacingAndGlyphs">ENAMEL</text>
<text class="h" transform="translate(645.2,608.2) skewX(-7)" x="0" y="0" font-size="10.0" textLength="72.6" lengthAdjust="spacingAndGlyphs">TO PACKING ROOM</text>
<text class="h" transform="translate(644.7,639.2) skewX(-7)" x="0" y="0" font-size="10.0" textLength="74.5" lengthAdjust="spacingAndGlyphs">SIGNODE STRAPS</text>
<text class="h" transform="translate(645.6,650.0) skewX(-7)" x="0" y="0" font-size="10.0" textLength="49.5" lengthAdjust="spacingAndGlyphs">AND SEALS</text>
<text class="h" transform="translate(644.7,669.5) skewX(-7)" x="0" y="0" font-size="10.0" textLength="73.8" lengthAdjust="spacingAndGlyphs">TO PACKING ROOM</text>
<text class="hl" transform="translate(70.0,522.1) skewX(-7)" x="0" y="0" font-size="11.4" textLength="59.4" lengthAdjust="spacingAndGlyphs">COMPONENTS</text>
<text class="hl" transform="translate(70.6,562.7) skewX(-7)" x="0" y="0" font-size="11.4" textLength="89.4" lengthAdjust="spacingAndGlyphs">QUALITY INSPECTION</text>
<text class="hl" transform="translate(70.6,598.8) skewX(-7)" x="0" y="0" font-size="11.4" textLength="94.9" lengthAdjust="spacingAndGlyphs">QUANTITY INSPECTION</text>
<text class="hl" transform="translate(70.6,634.9) skewX(-7)" x="0" y="0" font-size="11.4" textLength="93.4" lengthAdjust="spacingAndGlyphs">OPERATIONS ON FUSES</text>
<text class="hl" transform="translate(70.6,670.9) skewX(-7)" x="0" y="0" font-size="11.4" textLength="148.0" lengthAdjust="spacingAndGlyphs">OPERATIONS ON GRENADES BODIES</text>
<text class="hl" transform="translate(70.6,705.9) skewX(-7)" x="0" y="0" font-size="11.4" textLength="98.3" lengthAdjust="spacingAndGlyphs">OPERATIONS ON CASES</text>
<text class="hl" transform="translate(70.6,741.9) skewX(-7)" x="0" y="0" font-size="11.4" textLength="139.4" lengthAdjust="spacingAndGlyphs">OPERATIONS ON BLACK POWDER</text>
<text class="hl" transform="translate(70.6,778.5) skewX(-7)" x="0" y="0" font-size="11.4" textLength="149.8" lengthAdjust="spacingAndGlyphs">OPERATIONS ON TROJAN POWDER</text>
<text class="hl" transform="translate(70.6,814.4) skewX(-7)" x="0" y="0" font-size="11.4" textLength="161.0" lengthAdjust="spacingAndGlyphs">OPERATIONS ON INTERIOR VARNISH</text>
<text class="hl" transform="translate(70.6,849.9) skewX(-7)" x="0" y="0" font-size="11.4" textLength="98.0" lengthAdjust="spacingAndGlyphs">FINISHED GRENADES</text>
<text class="hl" transform="translate(70.0,885.4) skewX(-7)" x="0" y="0" font-size="11.4" textLength="162.0" lengthAdjust="spacingAndGlyphs">CARRYING BETWEEN OPERATIONS</text>
<text class="st" x="498.7" y="846.1" font-size="12.6" textLength="169.6" lengthAdjust="spacingAndGlyphs">UNITED STATES OF AMERICA</text>
<text class="st2" x="532.2" y="858.5" font-size="11" textLength="113.8" lengthAdjust="spacingAndGlyphs">Ordnance Department</text>
<text class="cap" x="214.0" y="932.9" textLength="21.6" lengthAdjust="spacingAndGlyphs"><tspan font-size="13.4">F</tspan><tspan font-size="9.4">IG.</tspan></text>
<text class="cap" x="241.5" y="932.9" textLength="6.5" lengthAdjust="spacingAndGlyphs"><tspan font-size="13.4">5</tspan></text>
<text class="cap" x="260.3" y="932.9" textLength="42.3" lengthAdjust="spacingAndGlyphs"><tspan font-size="13.4">P</tspan><tspan font-size="9.4">ROCESS</tspan></text>
<text class="cap" x="312.0" y="932.9" textLength="35.4" lengthAdjust="spacingAndGlyphs"><tspan font-size="13.4">C</tspan><tspan font-size="9.4">HART</tspan></text>
<text class="cap" x="355.6" y="932.9" font-size="9.4" textLength="18.8" lengthAdjust="spacingAndGlyphs">FOR</text>
<text class="cap" x="380.0" y="932.9" textLength="46.7" lengthAdjust="spacingAndGlyphs"><tspan font-size="13.4">L</tspan><tspan font-size="9.4">OADING</tspan></text>
<text class="cap" x="433.3" y="932.9" textLength="32.7" lengthAdjust="spacingAndGlyphs"><tspan font-size="13.4">R</tspan><tspan font-size="9.4">IFLE</tspan></text>
<text class="cap" x="472.7" y="932.9" textLength="55.5" lengthAdjust="spacingAndGlyphs"><tspan font-size="13.4">G</tspan><tspan font-size="9.4">RENADES</tspan></text>
<text class="side" xml:space="preserve" transform="translate(742.6,24.8) rotate(90)" x="0" y="0" font-size="16" textLength="14.4" lengthAdjust="spacingAndGlyphs">12</text>
<text class="side" xml:space="preserve" transform="translate(743.2,195.0) rotate(90)" x="0" y="0" font-size="10.0" textLength="106.4" lengthAdjust="spacingAndGlyphs">PROCESS  CHARTS</text>
<text class="side" xml:space="preserve" transform="translate(744.6,604.6) rotate(90)" x="0" y="0" font-size="10.6" textLength="174.1" lengthAdjust="spacingAndGlyphs">F.  B.  AND  L.  M.  GILBRETH</text>
<text class="side" xml:space="preserve" transform="translate(744.9,902.5) rotate(90)" x="0" y="0" font-size="16" textLength="13.5" lengthAdjust="spacingAndGlyphs">13</text>
</svg>
</body></html>
